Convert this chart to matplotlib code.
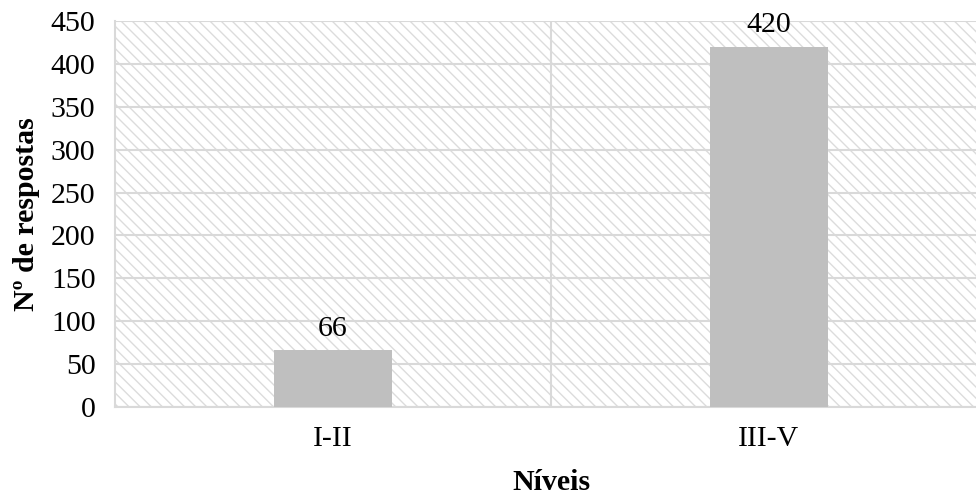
import matplotlib.pyplot as plt
from matplotlib.patches import Rectangle

plt.rcParams['font.family'] = ['Liberation Serif', 'DejaVu Serif']
plt.rcParams['hatch.color'] = '#dcdcdc'
plt.rcParams['hatch.linewidth'] = 1.0

niveis = ['I-II', 'III-V']
respostas = [66, 420]
y_ticks = list(range(0, 451, 50))

fs = 21.5

fig = plt.figure(figsize=(9.76, 4.98), dpi=100)
ax = fig.add_axes([0.1178, 0.1827, 0.8934, 0.7751])

# hatched plot background
bg = Rectangle((0, 0), 1, 1, transform=ax.transAxes, facecolor='white',
               edgecolor='#dcdcdc', hatch='\\\\\\', lw=0, zorder=0)
ax.add_patch(bg)

x = list(range(len(niveis)))
bars = ax.bar(x, respostas, width=0.27, color='#bfbfbf', zorder=3)
ax.bar_label(bars, labels=[str(v) for v in respostas], padding=6, fontsize=fs)

ax.set_xlim(-0.5, len(niveis) - 0.5)
ax.set_ylim(0, 450)
ax.set_yticks(y_ticks)
ax.set_xticks(x)
ax.set_xticklabels(niveis)
ax.tick_params(axis='both', length=0, labelsize=fs)
ax.tick_params(axis='y', pad=14)
ax.tick_params(axis='x', pad=14)

ax.yaxis.grid(True, color='#d9d9d9', lw=1.5, zorder=1)
ax.axvline(0.5, color='#d9d9d9', lw=1.5, zorder=1)
ax.set_axisbelow(True)

for side in ['top', 'right']:
    ax.spines[side].set_visible(False)
for side in ['left', 'bottom']:
    ax.spines[side].set_color('#d9d9d9')
    ax.spines[side].set_linewidth(1.5)

ax.set_xlabel('Níveis', fontsize=fs, fontweight='bold', labelpad=12)
ax.set_ylabel('Nº de respostas', fontsize=fs, fontweight='bold', labelpad=8)

fig.savefig('out.png', dpi=100)
